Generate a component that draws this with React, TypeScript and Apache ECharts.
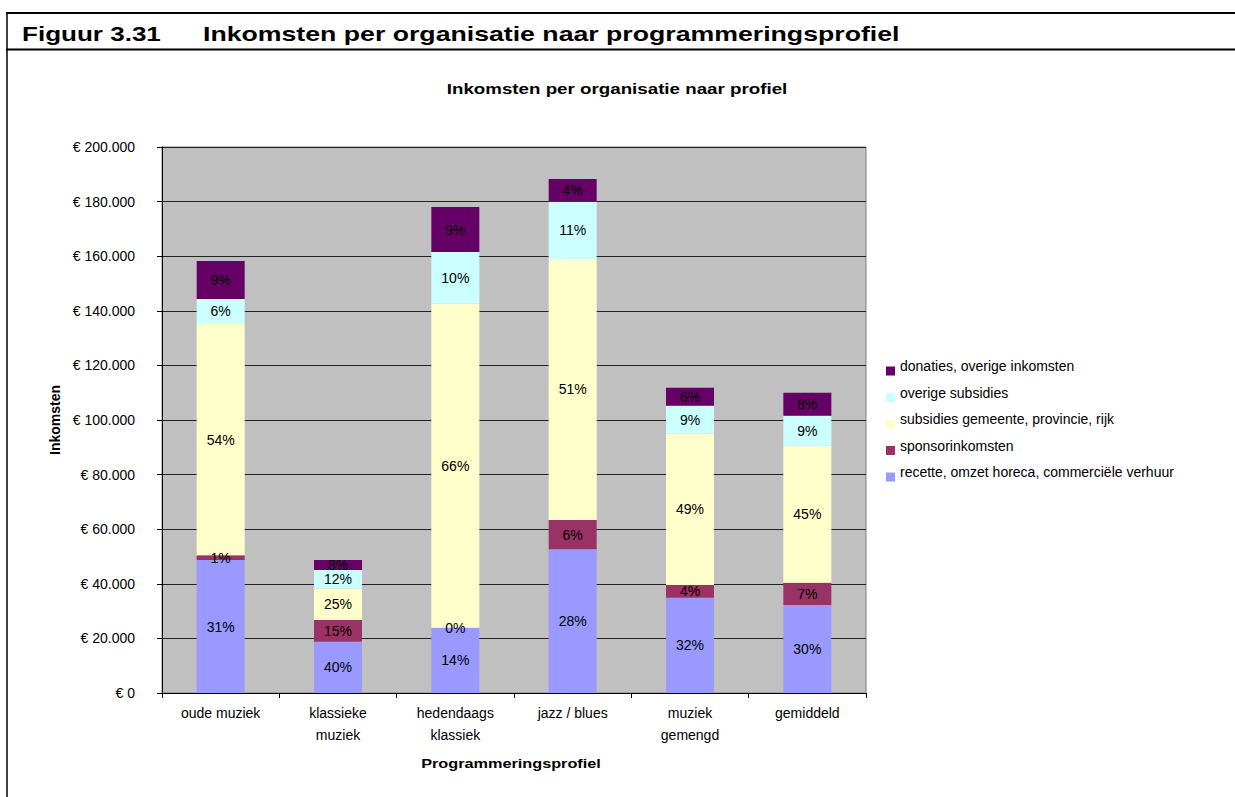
import React, { useEffect, useRef } from "react";
import * as echarts from "echarts";

const categories = [
  "oude muziek",
  "klassieke\nmuziek",
  "hedendaags\nklassiek",
  "jazz / blues",
  "muziek\ngemengd",
  "gemiddeld",
];

const seriesNames = [
  "recette, omzet horeca, commerciële verhuur",
  "sponsorinkomsten",
  "subsidies gemeente, provincie, rijk",
  "overige subsidies",
  "donaties, overige inkomsten",
];

const recette = [48700, 18800, 23900, 52700, 34900, 32200];
const sponsor = [1800, 7900, 0, 10700, 4700, 8200];
const subsidiesOverheid = [84700, 11600, 118800, 95600, 55500, 50200];
const overigeSubsidies = [9100, 6800, 18800, 20900, 10100, 11000];
const donaties = [13900, 3600, 16500, 8400, 6600, 8400];

const recettePct = [31, 40, 14, 28, 32, 30];
const sponsorPct = [1, 15, 0, 6, 4, 7];
const subsidiesOverheidPct = [54, 25, 66, 51, 49, 45];
const overigeSubsidiesPct = [6, 12, 10, 11, 9, 9];
const donatiesPct = [9, 8, 9, 4, 6, 8];

const colors = ["#9999FF", "#993366", "#FFFFCC", "#CCFFFF", "#660066"];

const yTicks = { min: 0, max: 200000, interval: 20000 };

const FONT = "Liberation Sans, Arial, sans-serif";

function fmtEuro(v: number): string {
  const s = Math.round(v).toString().replace(/\B(?=(\d{3})+(?!\d))/g, ".");
  return "€ " + s;
}

export default function App() {
  const ref = useRef<HTMLDivElement>(null);

  useEffect(() => {
    if (!ref.current) return;
    const chart = echarts.init(ref.current, undefined, { renderer: "svg" });

    const values = [recette, sponsor, subsidiesOverheid, overigeSubsidies, donaties];
    const pcts = [recettePct, sponsorPct, subsidiesOverheidPct, overigeSubsidiesPct, donatiesPct];

    const series = seriesNames.map((name, i) => ({
      name,
      type: "bar",
      stack: "total",
      barWidth: 48,
      data: values[i],
      itemStyle: { color: colors[i] },
      label: {
        show: true,
        position: "inside",
        color: "#000",
        fontSize: 14,
        fontFamily: FONT,
        formatter: (p: any) => pcts[i][p.dataIndex] + "%",
      },
      emphasis: { disabled: true },
    }));

    chart.setOption({
      animation: false,
      backgroundColor: "#fff",
      textStyle: { fontFamily: FONT },
      legend: {
        orient: "vertical",
        left: 881,
        top: 352,
        itemWidth: 9,
        itemHeight: 18.5,
        itemGap: 8,
        icon: "path://M0 0 L0.001 0 M0 9.5 L9 9.5 L9 18.5 L0 18.5 Z",
        data: [...seriesNames].reverse(),
        textStyle: {
          fontSize: 14,
          color: "#000",
          fontFamily: FONT,
        },
      },
      grid: {
        left: 162,
        right: 369,
        top: 147,
        bottom: 104,
        show: true,
        backgroundColor: "#C0C0C0",
        borderColor: "#808080",
        borderWidth: 1,
      },
      xAxis: {
        type: "category",
        data: categories,
        axisLine: { lineStyle: { color: "#000", width: 1 } },
        axisTick: { show: true, length: 5, lineStyle: { color: "#000" } },
        axisLabel: { color: "#000", fontSize: 14, lineHeight: 22, margin: 9, fontFamily: FONT, interval: 0 },
      },
      yAxis: {
        type: "value",
        min: yTicks.min,
        max: yTicks.max,
        interval: yTicks.interval,
        name: "Inkomsten",
        nameLocation: "middle",
        nameGap: 100,
        nameRotate: 90,
        nameTextStyle: { fontSize: 14, fontWeight: "bold", color: "#000", fontFamily: FONT },
        axisLine: { show: true, lineStyle: { color: "#000", width: 1 } },
        axisTick: { show: true, length: 5, lineStyle: { color: "#000" } },
        axisLabel: { color: "#000", fontSize: 14, margin: 27, fontFamily: FONT, formatter: (v: number) => fmtEuro(v) },
        splitLine: { show: true, lineStyle: { color: "#222", width: 1 } },
      },
      series,
      graphic: [
        { type: "line", shape: { x1: 6, y1: 13, x2: 1235, y2: 13 }, style: { stroke: "#000", lineWidth: 2 } },
        { type: "line", shape: { x1: 6, y1: 49.5, x2: 1235, y2: 49.5 }, style: { stroke: "#000", lineWidth: 2 } },
        { type: "line", shape: { x1: 7, y1: 12, x2: 7, y2: 797 }, style: { stroke: "#000", lineWidth: 1.5 } },
        {
          type: "text",
          x: 22,
          y: 34,
          scaleX: 1.24,
          style: {
            text: "Figuur 3.31",
            font: "bold 21px Liberation Sans, Arial, sans-serif",
            fill: "#000",
            verticalAlign: "middle",
          },
        },
        {
          type: "text",
          x: 203,
          y: 34,
          scaleX: 1.27,
          style: {
            text: "Inkomsten per organisatie naar programmeringsprofiel",
            font: "bold 21px Liberation Sans, Arial, sans-serif",
            fill: "#000",
            verticalAlign: "middle",
          },
        },
        {
          type: "text",
          x: 617,
          y: 89,
          scaleX: 1.25,
          style: {
            text: "Inkomsten per organisatie naar profiel",
            font: "bold 15px Liberation Sans, Arial, sans-serif",
            fill: "#000",
            align: "center",
            verticalAlign: "middle",
          },
        },
        {
          type: "text",
          x: 511,
          y: 764,
          scaleX: 1.25,
          style: {
            text: "Programmeringsprofiel",
            font: "bold 13px Liberation Sans, Arial, sans-serif",
            fill: "#000",
            align: "center",
            verticalAlign: "middle",
          },
        },
      ],
    });

    return () => chart.dispose();
  }, []);

  return (
    <div
      ref={ref}
      style={{ position: "absolute", left: 0, top: 0, width: 1235, height: 797 }}
    />
  );
}
